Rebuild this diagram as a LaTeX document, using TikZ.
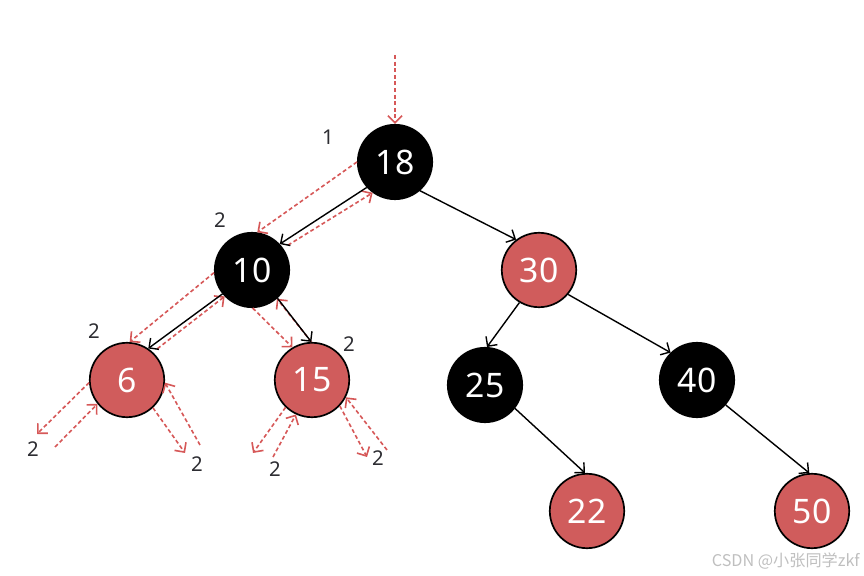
\documentclass[tikz,border=0pt]{standalone}
\usepackage{fontspec}
\setmainfont{Noto Sans}
\newfontfamily\cjk{Noto Sans CJK SC}
\usetikzlibrary{arrows.meta}
\definecolor{nodered}{RGB}{208,92,92}
\definecolor{walkred}{RGB}{214,88,88}
\definecolor{lblgray}{RGB}{45,45,50}
\begin{document}
\begin{tikzpicture}[
        x=0.025cm, y=-0.025cm,
        blk/.style={draw, circle, line width=1.2pt, fill=black, text=white, minimum size=1.86cm, inner sep=0pt, font=\fontsize{24}{28}\selectfont},
        rd/.style={blk, fill=nodered},
        lbl/.style={text=lblgray, inner sep=0pt, font=\fontsize{14.5}{16}\selectfont},
        walk/.style={draw=walkred, line width=1.15pt, dash pattern=on 2.8pt off 1.9pt},
        walkback/.style={walk, shorten <=4pt},
        edge/.style={->, line width=1pt},
        >={Straight Barb[length=5pt,width=10pt]}
    ]
        \useasboundingbox (0,0) rectangle (864,576);

        % Tree nodes
        \node[blk] (n18) at (395,162) {18};
        \node[blk] (n10) at (252,270) {10};
        \node[rd] (n30) at (539,270) {30};
        \node[rd] (n6) at (127,380) {6};
        \node[rd] (n15) at (312,380) {15};
        \node[blk] (n25) at (485,385) {25};
        \node[blk] (n40) at (697,380) {40};
        \node[rd] (n22) at (587,511) {22};
        \node[rd] (n50) at (812,511) {50};

        % Free ends of the walk
        \coordinate (start) at (395,55);
        \coordinate (l6a) at (37,434);
        \coordinate (l6b) at (55,447);
        \coordinate (r6a) at (185,453);
        \coordinate (r6b) at (200,445);
        \coordinate (l15a) at (253,453);
        \coordinate (l15b) at (273,457);
        \coordinate (r15a) at (367,457);
        \coordinate (r15b) at (387,450);

        % Counts
        \node[lbl] (c18) at (328,137) {1};
        \node[lbl] (c10) at (220,220) {2};
        \node[lbl] (c6) at (94,331) {2};
        \node[lbl] (c15) at (349,344) {2};
        \node[lbl] (cl6) at (33,449) {2};
        \node[lbl] (cr6) at (197,464) {2};
        \node[lbl] (cl15) at (275,469) {2};
        \node[lbl] (cr15) at (378,458) {2};

        % Walk down and back up
        \draw[walk, ->] (start) -- (n18.90);
        \draw[walk, ->] (n18.180) -- (n10.82);
        \draw[walkback, ->] (n10.35) -- (n18.234);
        \draw[walk, ->] (n10.184) -- (n6.86);
        \draw[walkback, ->] (n6.47) -- (n10.224);
        \draw[walk, ->] (n10.271) -- (n15.121);
        \draw[walk, ->] (n15.91) -- (n10.311);

        % Walk to the empty leaves
        \draw[walk, ->] (n6.184) -- (l6a);
        \draw[walk, ->] (l6b) -- (n6.219);
        \draw[walk, ->] (n6.313) -- (r6a);
        \draw[walk, ->] (r6b) -- (n6.356);
        \draw[walk, ->] (n15.226) -- (l15a);
        \draw[walk, ->] (l15b) -- (n15.245);
        \draw[walk, ->] (n15.317) -- (r15a);
        \draw[walk, ->] (r15b) -- (n15.333);

        % Tree edges
        \draw[edge] (n18.222) -- (n10.43);
        \draw[edge] (n18.311) -- (n30.127);
        \draw[edge] (n10.219) -- (n6.56);
        \draw[edge] (n10.312) -- (n15.91);
        \draw[edge] (n30.239) -- (n25.87);
        \draw[edge] (n30.320) -- (n40.134);
        \draw[edge] (n25.322) -- (n22.93);
        \draw[edge] (n40.319) -- (n50.94);

        % Watermark
        \node[anchor=base east, inner sep=0pt, text=black!25, font=\cjk\fontsize{11.5}{13}\selectfont] (mark) at (860,567) {CSDN @小张同学zkf};
    \end{tikzpicture}
\end{document}
